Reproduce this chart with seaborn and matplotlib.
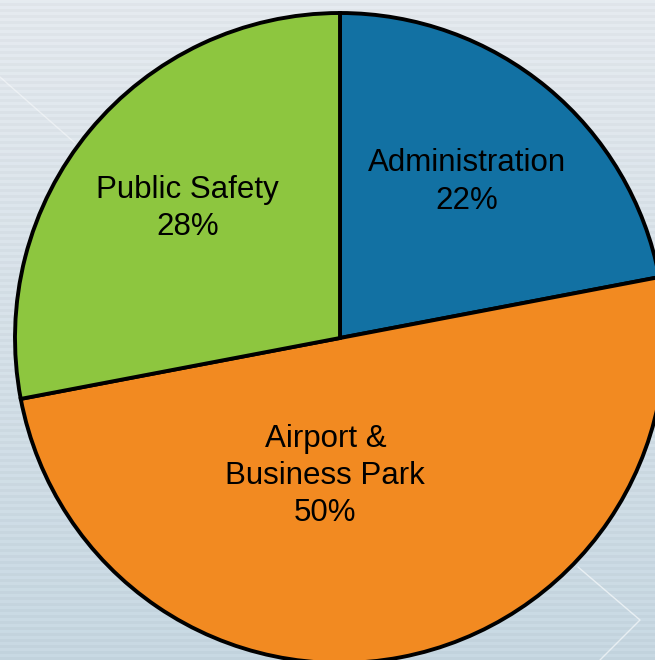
import matplotlib.pyplot as plt
import seaborn as sns
import numpy as np

sns.set_theme(style="white")
plt.rcParams.update({"font.family": ["Liberation Sans", "DejaVu Sans"]})

# data
categories = ["Administration", "Airport &\nBusiness Park", "Public Safety"]
shares = [22, 50, 28]
colors = sns.color_palette(["#1271a3", "#f28a21", "#8dc63f"])

# label placement (data units, pie radius = 1)
label_pos = [(0.39, 0.48), (-0.045, -0.425), (-0.47, 0.398)]

fig = plt.figure(figsize=(6.55, 6.6), dpi=100)

# striped gradient background
bg = fig.add_axes([0, 0, 1, 1])
rows = np.arange(660)
top = np.array([0.890, 0.910, 0.930])
bottom = np.array([0.775, 0.840, 0.880])
t = (rows / 659.0)[:, None]
grad = top * (1 - t) + bottom * t
stripe = np.where((rows // 3) % 2 == 0, 0.012, -0.012)[:, None]
img = np.clip(grad + stripe, 0, 1)[:, None, :].repeat(655, axis=1)
bg.imshow(img, aspect="auto", extent=[0, 655, 660, 0])
bg.plot([0, 75], [77, 143], color="white", lw=1, alpha=0.45)
bg.plot([578, 640, 600], [567, 620, 660], color="white", lw=1, alpha=0.6)
bg.set_xlim(0, 655)
bg.set_ylim(660, 0)
bg.axis("off")

# pie: centre at (340, 338) px, radius 325 px
ax = fig.add_axes([15 / 655, -3 / 660, 650 / 655, 650 / 660])
wedges, _ = ax.pie(
    shares,
    colors=colors,
    startangle=90,
    counterclock=False,
    radius=1,
    wedgeprops={"edgecolor": "black", "linewidth": 2.8},
)
for w in wedges:
    w.set_clip_on(False)

for name, val, (x, y) in zip(categories, shares, label_pos):
    ax.text(x, y, f"{name}\n{val}%", ha="center", va="center",
            fontsize=22.5, color="black", linespacing=1.32)

ax.set_xlim(-1, 1)
ax.set_ylim(-1, 1)
ax.set_aspect("equal")
ax.axis("off")

fig.savefig("out.png", dpi=100)
